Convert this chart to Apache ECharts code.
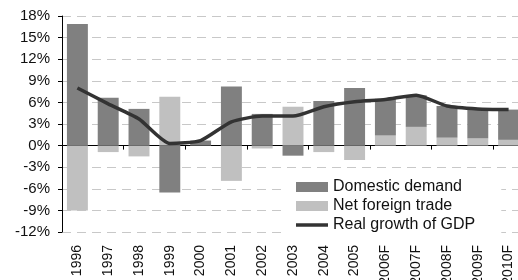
<!DOCTYPE html>
<html>
<head>
<meta charset="utf-8">
<script src="https://cdn.jsdelivr.net/npm/echarts@6/dist/echarts.min.js"></script>
<style>
  html, body { margin: 0; padding: 0; background: #fff; }
  #chart { width: 518px; height: 280px; }
</style>
</head>
<body>
<div id="chart"></div>
<script>
const years = ['1996', '1997', '1998', '1999', '2000', '2001', '2002', '2003', '2004', '2005', '2006F', '2007F', '2008F', '2009F', '2010F']
// bars stack: net foreign trade first, domestic demand on top of it
const domesticDemand = [16.9, 6.65, 5.1, -6.5, 0.7, 8.2, 4.4, -1.4, 6.2, 8.0, 5.1, 4.4, 4.4, 4.0, 4.2]
const netForeignTrade = [-9.0, -0.9, -1.5, 6.8, 0, -4.9, -0.4, 5.4, -0.9, -2.0, 1.4, 2.6, 1.1, 1.0, 0.8]
const realGdp = [8.0, 5.8, 3.7, 0.3, 0.7, 3.3, 4.1, 4.1, 5.4, 6.1, 6.4, 7.0, 5.5, 5.1, 5.0]

const font = 'Liberation Sans, Arial, sans-serif'
const chart = echarts.init(document.getElementById('chart'), null, { renderer: 'canvas' })

// thick horizontal stroke for the line entry of the legend
const lineIcon = 'path://M0,0 L0,0 M0,3.25 L32,3.25 L32,6.75 L0,6.75 Z M32,10 L32,10'

const option = {
  animation: false,
  textStyle: { fontFamily: font },
  grid: { left: 62, right: -6, top: 16, bottom: 48, containLabel: false, outerBoundsMode: 'none' },
  legend: {
    orient: 'vertical',
    left: 286,
    top: 175,
    backgroundColor: '#fff',
    padding: [4, 26, 4, 10],
    itemWidth: 32,
    itemHeight: 10,
    itemGap: 3,
    textStyle: { fontFamily: font, fontSize: 16, color: '#111' },
    data: [
      { name: 'Domestic demand', icon: 'rect' },
      { name: 'Net foreign trade', icon: 'rect' },
      { name: 'Real growth of GDP', icon: lineIcon, itemStyle: { color: '#333' } }
    ]
  },
  xAxis: [{
    type: 'category',
    data: years,
    position: 'bottom',
    axisLine: { show: false, onZero: false },
    axisTick: { show: false },
    axisLabel: { rotate: 90, margin: 13, fontSize: 14, color: '#111', fontFamily: font, interval: 0 }
  }, {
    type: 'category',
    data: years,
    position: 'top',
    axisLine: { onZero: true, lineStyle: { color: '#000', width: 1 } },
    axisTick: { show: true, inside: true, length: 4, lineStyle: { color: '#000' } },
    axisLabel: { show: false },
    splitLine: { show: false }
  }],
  yAxis: {
    type: 'value',
    min: -12,
    max: 18,
    interval: 3,
    axisLine: { show: true, lineStyle: { color: '#000', width: 1 } },
    axisTick: { show: true, length: 4, lineStyle: { color: '#000' } },
    axisLabel: { formatter: '{value}%', fontSize: 15, color: '#111', margin: 12, fontFamily: font },
    splitLine: { show: true, lineStyle: { color: '#c8c8c8', type: [9, 6], width: 1 } }
  },
  series: [{
    name: 'Net foreign trade',
    type: 'bar',
    stack: 'gdp',
    barWidth: '68%',
    itemStyle: { color: '#c0c0c0' },
    data: netForeignTrade
  }, {
    name: 'Domestic demand',
    type: 'bar',
    stack: 'gdp',
    barWidth: '68%',
    itemStyle: { color: '#808080' },
    data: domesticDemand
  }, {
    name: 'Real growth of GDP',
    type: 'line',
    symbol: 'none',
    smooth: 0.2,
    lineStyle: { color: '#333', width: 3.5 },
    itemStyle: { color: '#333' },
    data: realGdp,
    z: 5
  }]
}
chart.setOption(option)
</script>
</body>
</html>
